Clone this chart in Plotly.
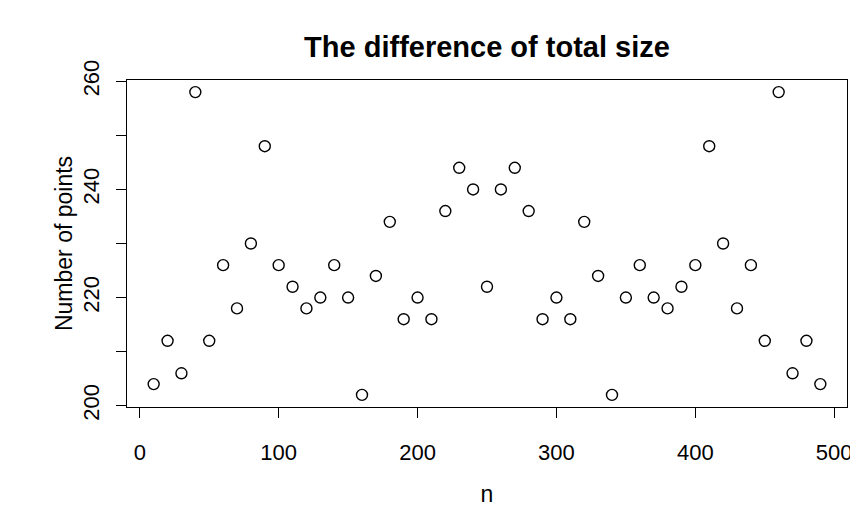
import plotly.graph_objects as go

# ── data ──
n_values = list(range(10, 500, 10))
num_points = [
    204, 212, 206, 258, 212, 226, 218, 230, 248, 226,
    222, 218, 220, 226, 220, 202, 224, 234, 216, 220,
    216, 236, 244, 240, 222, 240, 244, 236, 216, 220,
    216, 234, 224, 202, 220, 226, 220, 218, 222, 226,
    248, 230, 218, 226, 212, 258, 206, 212, 204,
]
x_ticks = [0, 100, 200, 300, 400, 500]
y_ticks = [200, 210, 220, 230, 240, 250, 260]
y_tick_text = ["200", "", "220", "", "240", "", "260"]

FONT = "Liberation Sans, Arial, sans-serif"

# the page body adds an 8px margin, so the figure is 8px smaller than the window
W, H = 850, 521

fig = go.Figure(go.Scatter(
    x=n_values,
    y=num_points,
    mode="markers",
    marker=dict(symbol="circle-open", size=11, color="black",
                line=dict(width=1.4, color="black")),
    hovertemplate="n=%{x}<br>%{y}<extra></extra>",
))

axis_common = dict(
    showgrid=False, zeroline=False, automargin=False,
    showline=True, linecolor="black", linewidth=1, mirror=True,
    ticks="outside", ticklen=10, tickwidth=1, tickcolor="black",
    tickfont=dict(size=22, color="black", family=FONT),
)

fig.update_layout(
    width=W, height=H,
    plot_bgcolor="white", paper_bgcolor="white",
    font=dict(family=FONT, color="black"),
    showlegend=False,
    title=dict(text="<b>The difference of total size</b>", x=0.5, xref="paper",
               yref="container", y=1 - 39 / H, yanchor="middle", xanchor="center",
               font=dict(size=29, color="black", family=FONT)),
    margin=dict(l=119, r=11, t=72, b=122),
    xaxis=dict(**axis_common, range=[-9.2, 509.2], tickvals=x_ticks,
               ticklabelstandoff=16,
               title=dict(text="n", font=dict(size=23), standoff=21)),
    yaxis=dict(**axis_common, range=[199.76, 260.24], tickvals=y_ticks,
               ticktext=y_tick_text, tickangle=-90, ticklabelstandoff=8,
               title=dict(text="Number of points", font=dict(size=23), standoff=0)),
)

fig.write_html("out.html")
